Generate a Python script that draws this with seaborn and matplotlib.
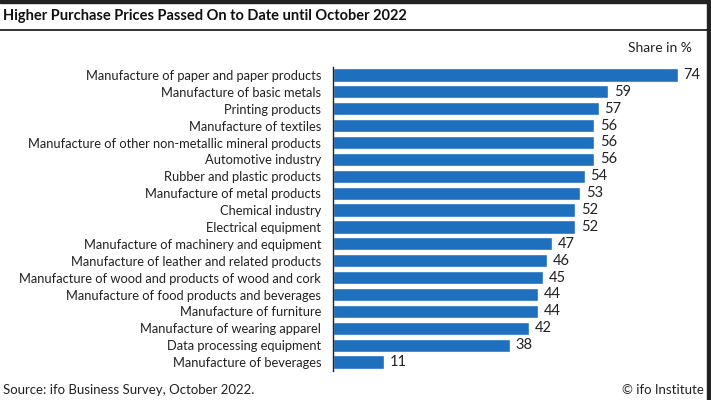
import matplotlib
matplotlib.use("Agg")
import matplotlib.pyplot as plt
import seaborn as sns
import pandas as pd

categories = [
    "Manufacture of paper and paper products",
    "Manufacture of basic metals",
    "Printing products",
    "Manufacture of textiles",
    "Manufacture of other non-metallic mineral products",
    "Automotive industry",
    "Rubber and plastic products",
    "Manufacture of metal products",
    "Chemical industry",
    "Electrical equipment",
    "Manufacture of machinery and equipment",
    "Manufacture of leather and related products",
    "Manufacture of wood and products of wood and cork",
    "Manufacture of food products and beverages",
    "Manufacture of furniture",
    "Manufacture of wearing apparel",
    "Data processing equipment",
    "Manufacture of beverages",
]
shares = [74, 59, 57, 56, 56, 56, 54, 53, 52, 52, 47, 46, 45, 44, 44, 42, 38, 11]

title = "Higher Purchase Prices Passed On to Date until October 2022"
unit = "Share in %"
source = "Source: ifo Business Survey, October 2022."
credit = "© ifo Institute"

df = pd.DataFrame({"sector": categories, "share": shares})

sns.set_style("white")
plt.rcParams["font.family"] = ["Lato", "DejaVu Sans"]

fig = plt.figure(figsize=(7.11, 4.0), dpi=100)
ax = fig.add_axes([333 / 711, 1 - 370.5 / 400, (678 - 333) / 711, (370.5 - 66.5) / 400])

sns.barplot(data=df, x="share", y="sector", color="#1f6fbf", saturation=1,
            width=0.78, orient="h", ax=ax)
ax.set_xlim(0, 74)
ax.set_ylim(len(categories) - 0.5, -0.5)
ax.set_xlabel("")
ax.set_ylabel("")
ax.set_xticks([])
ax.tick_params(axis="y", length=0, pad=8.5, labelsize=9.3, labelcolor="#222222")
for s in ["top", "right", "bottom"]:
    ax.spines[s].set_visible(False)
ax.spines["left"].set_color("#222222")
ax.spines["left"].set_linewidth(1.0)

for i, v in enumerate(shares):
    ax.text(v + 1.2, i, str(v), va="center", ha="left", fontsize=10.5,
            color="#222222", clip_on=False)

fig.text(3 / 711, 1 - 16 / 400, title, fontsize=10.5, fontweight="bold",
         va="center", ha="left", color="#111111")
fig.add_artist(plt.Line2D([0, 707 / 711], [1 - 30 / 400, 1 - 30 / 400],
                          color="#111111", lw=1.2))
fig.text(692 / 711, 1 - 48 / 400, unit, fontsize=10, va="center", ha="right",
         color="#222222")
fig.text(3 / 711, 1 - 390 / 400, source, fontsize=9.5, va="center", ha="left",
         color="#222222")
fig.text(704 / 711, 1 - 390 / 400, credit, fontsize=9.5, va="center", ha="right",
         color="#222222")

# dark frame edges seen in the screenshot
fig.add_artist(plt.Rectangle((0, 1 - 3 / 400), 1, 3 / 400, color="#222222",
                             transform=fig.transFigure))
fig.add_artist(plt.Rectangle((707 / 711, 0), 4 / 711, 1, color="#222222",
                             transform=fig.transFigure))

fig.savefig("out.png", dpi=100)
